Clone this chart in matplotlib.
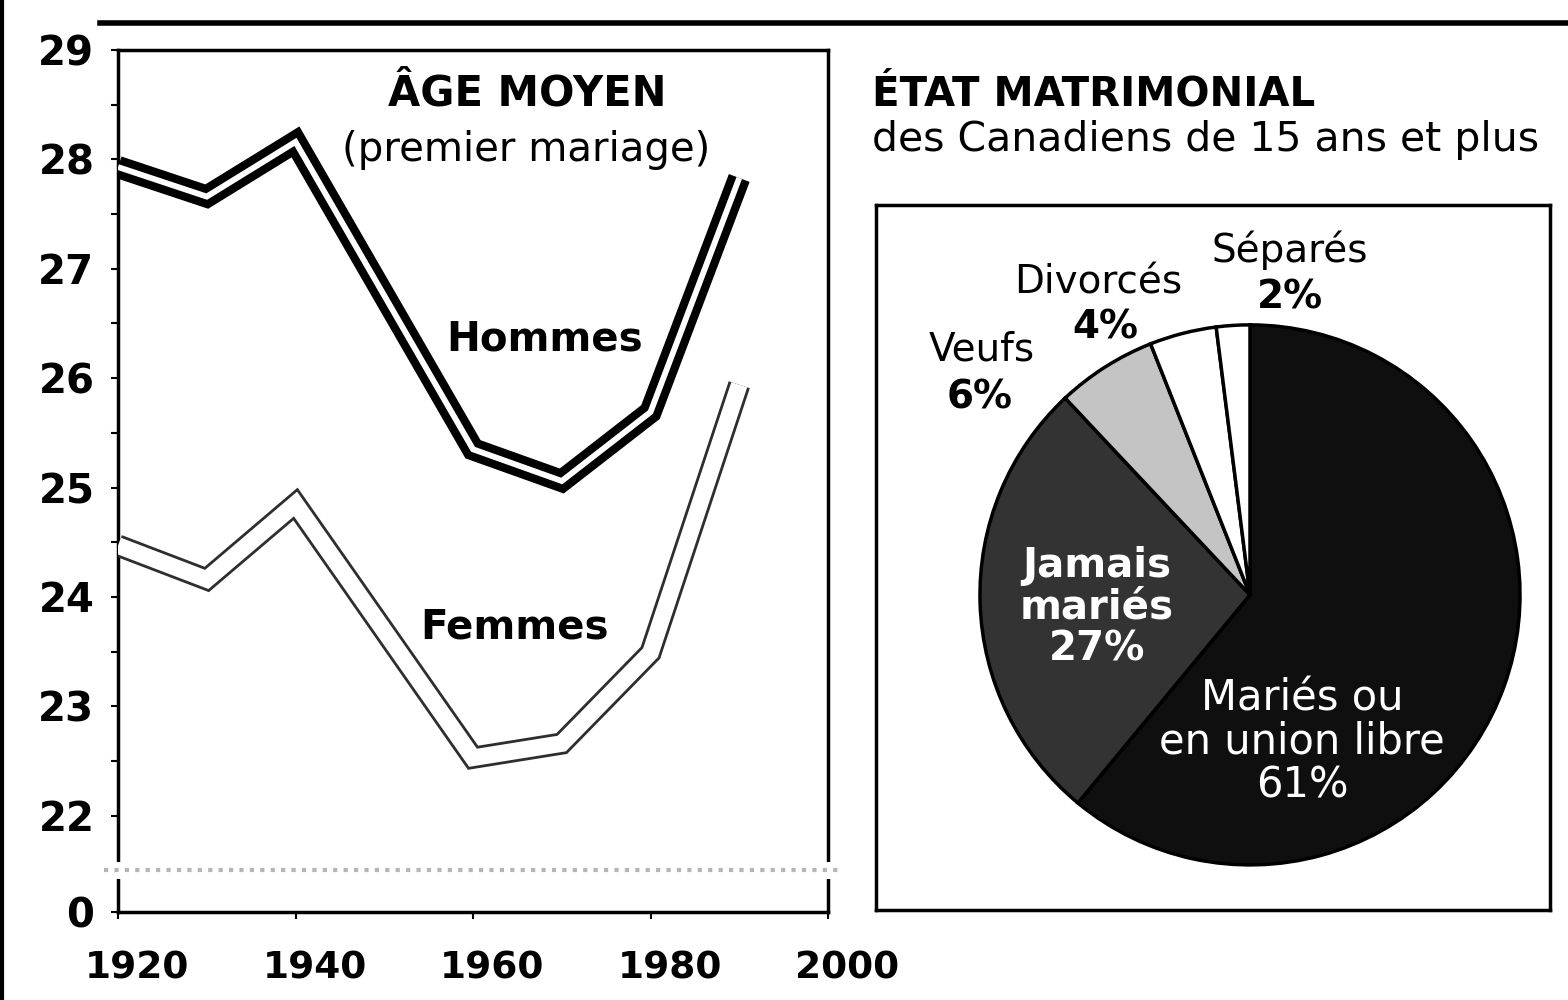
import matplotlib
matplotlib.use('Agg')
import matplotlib.pyplot as plt
from matplotlib.lines import Line2D
from matplotlib.patches import Rectangle
from matplotlib.ticker import FixedLocator
from matplotlib.transforms import ScaledTranslation, blended_transform_factory

# ---------------- data ----------------
years = [1920, 1930, 1940, 1960, 1970, 1980, 1990]
hommes = [27.93, 27.66, 28.16, 25.35, 25.06, 25.69, 27.83]
femmes = [24.47, 24.16, 24.85, 22.53, 22.66, 23.49, 25.94]

ytick_values = [22, 23, 24, 25, 26, 27, 28, 29]
xtick_values = [1920, 1940, 1960, 1980, 2000]

pie_names = ['Mariés ou\nen union libre', 'Jamais\nmariés', 'Veufs', 'Divorcés', 'Séparés']
pie_values = [61, 27, 6, 4, 2]

# ---------------- layout helpers ----------------
W, H = 1568, 1000
plt.rcParams['font.family'] = ['DejaVu Sans']
fig = plt.figure(figsize=(W / 100, H / 100), dpi=100)
fig.patch.set_facecolor('white')


def px_box(x0, y0, x1, y1):
    return [x0 / W, 1 - y1 / H, (x1 - x0) / W, (y1 - y0) / H]


# ---------------- left panel: line chart ----------------
zero_pos = 21.12          # where the broken axis shows "0"
break_pos = 21.5
ax = fig.add_axes(px_box(118, 50, 828, 912))
ax.set_xlim(1920, 2000)
ax.set_ylim(zero_pos, 29)

# Hommes: black double line
ax.plot(years, hommes, color='black', lw=16, solid_joinstyle='miter',
        solid_capstyle='butt', zorder=3)
ax.plot(years, hommes, color='white', lw=4.2, solid_joinstyle='miter',
        solid_capstyle='butt', zorder=4)

# Femmes: thin grey double line
ax.plot(years, femmes, color='#2e2e2e', lw=16, solid_joinstyle='miter',
        solid_capstyle='butt', zorder=3)
ax.plot(years, femmes, color='white', lw=12, solid_joinstyle='miter',
        solid_capstyle='butt', zorder=4)

for sp in ax.spines.values():
    sp.set_linewidth(2.5)
    sp.set_color('black')

ax.yaxis.set_major_locator(FixedLocator([zero_pos] + ytick_values))
ax.set_yticklabels(['0'] + [str(v) for v in ytick_values])
ax.yaxis.set_minor_locator(FixedLocator([v + 0.5 for v in ytick_values[:-1]]))
ax.set_xticks(xtick_values)
ax.set_xticklabels([str(v) for v in xtick_values])
ax.tick_params(axis='y', which='both', direction='out', length=5, width=1.5,
               labelsize=29, pad=12)
ax.tick_params(axis='x', direction='out', length=5, width=1.5,
               labelsize=27, pad=23)
for lab in ax.get_yticklabels() + ax.get_xticklabels():
    lab.set_fontweight('bold')
offset = ScaledTranslation(19 / 100, 0, fig.dpi_scale_trans)
for lab in ax.get_xticklabels():
    lab.set_transform(lab.get_transform() + offset)

# axis break
bt = blended_transform_factory(ax.transAxes, ax.transData)
for xpos in (0, 1):
    ax.add_patch(Rectangle((xpos - 0.01, break_pos - 0.08), 0.02, 0.16,
                           transform=bt, facecolor='white', edgecolor='none',
                           clip_on=False, zorder=6))
ax.plot([-0.02, 1.02], [break_pos, break_pos], transform=bt, color='#b5b5b5',
        lw=3, ls=(0, (1, 1.5)), clip_on=False, zorder=7)

ax.text(0.576, 0.950, 'ÂGE MOYEN', transform=ax.transAxes, ha='center',
        va='center', fontsize=30, fontweight='bold')
ax.text(0.575, 0.884, '(premier mariage)', transform=ax.transAxes,
        ha='center', va='center', fontsize=29)
ax.text(0.601, 0.664, 'Hommes', transform=ax.transAxes, ha='center',
        va='center', fontsize=29, fontweight='bold', zorder=8)
ax.text(0.559, 0.330, 'Femmes', transform=ax.transAxes, ha='center',
        va='center', fontsize=29, fontweight='bold', zorder=8)

# ---------------- right panel: pie ----------------
fig.text(872 / W, 1 - 95 / H, 'ÉTAT MATRIMONIAL', ha='left', va='center',
         fontsize=29, fontweight='bold')
fig.text(872 / W, 1 - 140 / H, 'des Canadiens de 15 ans et plus', ha='left',
         va='center', fontsize=29.5)

pax = fig.add_axes(px_box(876, 205, 1550, 910))
wedge_colors = ['#0f0f0f', '#333333', '#c4c4c4', 'white', 'white']
wedges, _ = pax.pie(pie_values, colors=wedge_colors, startangle=90,
                    counterclock=False, radius=1.0,
                    wedgeprops=dict(edgecolor='black', linewidth=2.5))
pax.set_aspect('auto')
pax.set_xlim(-1.385, 1.111)
pax.set_ylim(-1.167, 1.444)
pax.set_frame_on(True)
for sp in pax.spines.values():
    sp.set_linewidth(2.5)
    sp.set_color('black')
pax.set_xticks([])
pax.set_yticks([])

pct = [f'{v}%' for v in pie_values]
# outside labels
pax.text(0.148, 1.278, pie_names[4], ha='center', va='center', fontsize=28)
pax.text(0.148, 1.100, pct[4], ha='center', va='center', fontsize=28,
         fontweight='bold')
pax.text(-0.563, 1.156, pie_names[3], ha='center', va='center', fontsize=28)
pax.text(-0.537, 0.989, pct[3], ha='center', va='center', fontsize=28,
         fontweight='bold')
pax.text(-0.993, 0.907, pie_names[2], ha='center', va='center', fontsize=28)
pax.text(-1.000, 0.730, pct[2], ha='center', va='center', fontsize=28,
         fontweight='bold')
# inside labels
pax.text(-0.567, -0.048, pie_names[1] + '\n' + pct[1], ha='center',
         va='center', fontsize=29, fontweight='bold', color='white',
         linespacing=1.05)
pax.text(0.193, -0.544, pie_names[0] + '\n' + pct[0], ha='center',
         va='center', fontsize=30, color='white', linespacing=1.05)

# ---------------- decorations ----------------
fig.add_artist(Line2D([100 / W, 1], [1 - 23 / H, 1 - 23 / H], lw=4,
                      color='black'))
fig.add_artist(Line2D([2 / W, 2 / W], [0, 1], lw=3, color='black'))

fig.savefig('out.png', dpi=100)
